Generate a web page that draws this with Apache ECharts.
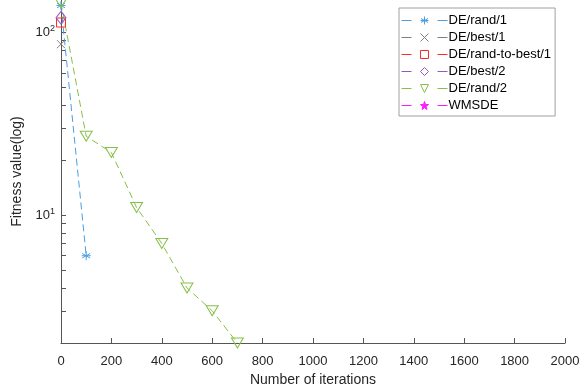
<!DOCTYPE html>
<html><head><meta charset="utf-8">
<script src="https://cdn.jsdelivr.net/npm/echarts@6/dist/echarts.min.js"></script>
<style>html,body{margin:0;padding:0;background:#fff}#c{width:587px;height:392px}</style>
</head><body><div id="c"></div>
<script>
const seriesNames = ['DE/rand/1','DE/best/1','DE/rand-to-best/1','DE/best/2','DE/rand/2','WMSDE'];
const xRand1 = [0, 100];
const yRand1 = [140, 6];
const xBest1 = [0];
const yBest1 = [86];
const xRandToBest1 = [0];
const yRandToBest1 = [113];
const xBest2 = [0];
const yBest2 = [120];
const xRand2 = [0, 100, 200, 300, 400, 500, 600, 700];
const yRand2 = [145, 27, 22, 11, 7, 4, 3, 2];
const xWMSDE = [0];
const yWMSDE = [200];
const xTicks = [0,200,400,600,800,1000,1200,1400,1600,1800,2000];
const yTickValues = [2,3,4,5,6,7,8,9,10,20,30,40,50,60,70,80,90,100];
const yLabelValues = [10, 100];

const colors = ['#4a9ee0','#7f7f7f','#ff2a2a','#9a55c0','#86c04a','#ff1aff'];
const symbols = [
  'path://M0,-10L0,10M-8.7,-5L8.7,5M-8.7,5L8.7,-5M-10,0L10,0',
  'path://M-7,-7L7,7M-7,7L7,-7',
  'rect',
  'diamond',
  'path://M-6,-5L6,-5L0,5Z',
  'path://M0,-10L2.35,-3.24L9.51,-3.09L3.8,1.24L5.88,8.09L0,4L-5.88,8.09L-3.8,1.24L-9.51,-3.09L-2.35,-3.24Z'
];
const sizes = [9, 8, 9, [10, 13], [12, 10], 10];
const xs = [xRand1, xBest1, xRandToBest1, xBest2, xRand2, xWMSDE];
const ys = [yRand1, yBest1, yRandToBest1, yBest2, yRand2, yWMSDE];

const series = seriesNames.map((n, i) => ({
  name: n,
  type: 'line',
  data: xs[i].map((x, k) => [x, ys[i][k]]),
  symbol: symbols[i],
  symbolSize: sizes[i],
  showAllSymbol: true,
  lineStyle: { color: colors[i], width: 1, type: [7, 4] },
  itemStyle: { color: 'rgba(0,0,0,0)', borderColor: colors[i], borderWidth: 1 },
  emphasis: { disabled: true },
  animation: false
}));

const legendData = seriesNames.map((n, i) => ({
  name: n,
  lineStyle: { color: colors[i], width: 1, type: [10, 26] },
  itemStyle: { color: i === 5 ? colors[i] : 'rgba(0,0,0,0)', borderColor: colors[i], borderWidth: 1 }
}));

const chart = echarts.init(document.getElementById('c'), null, { renderer: 'canvas' });
chart.setOption({
  animation: false,
  backgroundColor: '#fff',
  grid: { left: 61, right: 22, top: 0, bottom: 43, containLabel: false },
  legend: {
    orient: 'vertical',
    left: 399, top: 8,
    padding: [6, 4, 4, 2],
    itemWidth: 46, itemHeight: 10, itemGap: 4,
    borderColor: '#a0a0a0', borderWidth: 1, backgroundColor: '#fff',
    textStyle: { fontFamily: 'Liberation Sans', fontSize: 13, color: '#000', padding: [0, 0, 0, -4] },
    data: legendData
  },
  xAxis: {
    type: 'value', min: 0, max: 2000, interval: 200,
    name: 'Number of iterations', nameLocation: 'middle', nameGap: 30,
    nameTextStyle: { fontFamily: 'Liberation Sans', fontSize: 14, color: '#262626' },
    axisLine: { show: true, lineStyle: { color: '#555', width: 1 } },
    axisTick: { show: true, inside: true, length: 5, lineStyle: { color: '#555' } },
    axisLabel: { fontFamily: 'Liberation Sans', fontSize: 13, color: '#262626', margin: 12, formatter: v => String(v) },
    splitLine: { show: false }
  },
  yAxis: {
    type: 'log', logBase: 10, min: 2, max: 150,
    name: 'Fitness value(log)', nameLocation: 'middle', nameGap: 31,
    nameTextStyle: { fontFamily: 'Liberation Sans', fontSize: 14, color: '#262626' },
    axisLine: { show: true, lineStyle: { color: '#555', width: 1 } },
    axisTick: { show: true, inside: true, length: 5, lineStyle: { color: '#555' }, customValues: yTickValues },
    axisLabel: {
      customValues: yLabelValues,
      margin: 6,
      formatter: v => {
        const e = Math.round(Math.log10(v));
        return '{b|10}{s|' + e + '}';
      },
      rich: {
        b: { fontFamily: 'Liberation Sans', fontSize: 13, color: '#262626' },
        s: { fontFamily: 'Liberation Sans', fontSize: 9, color: '#262626', verticalAlign: 'top', padding: [0, 0, 8, 0] }
      }
    },
    splitLine: { show: false }
  },
  series: series
});
</script></body></html>
